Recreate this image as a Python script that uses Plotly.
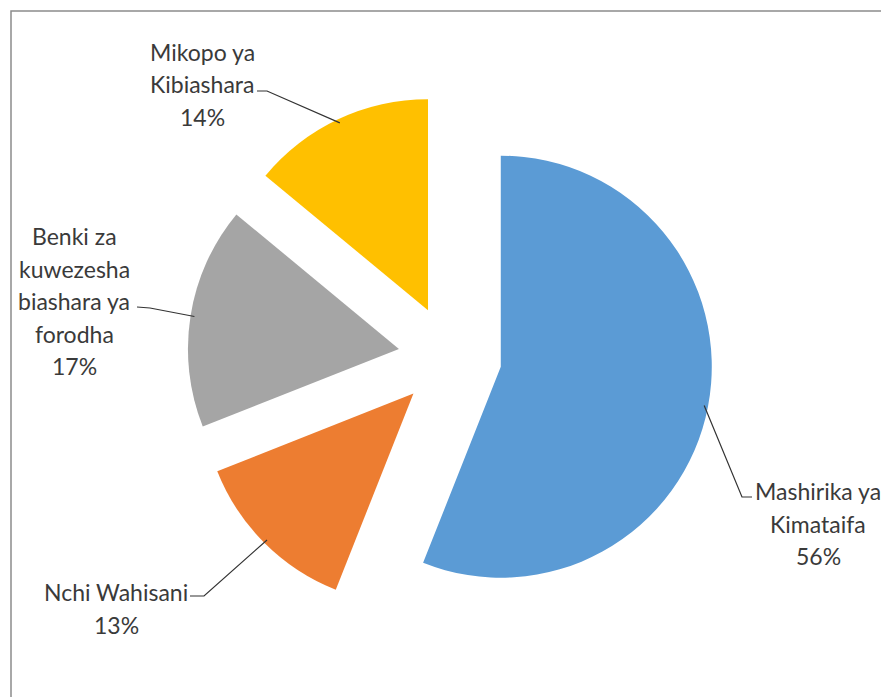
import math
import plotly.graph_objects as go

# ---- data ----
labels = ["Mashirika ya Kimataifa", "Nchi Wahisani",
          "Benki za kuwezesha biashara ya forodha", "Mikopo ya Kibiashara"]
values = [56, 13, 17, 14]
colors = ["#5B9BD5", "#ED7D31", "#A5A5A5", "#FFC000"]
label_lines = [["Mashirika ya", "Kimataifa"],
               ["Nchi Wahisani"],
               ["Benki za", "kuwezesha", "biashara ya", "forodha"],
               ["Mikopo ya", "Kibiashara"]]

# ---- layout constants (pixels) ----
W, H = 881, 697
PULL = 0.245
CX, CY = 450, 357
R = 211
BOX = 2 * R * (1 + PULL)

# label placement: (center x, first line center y) and leader knee/end points
label_pos = [(818, 491), (116, 592), (74, 236), (202, 52)]
leader_pts = [[(742, 497), (752, 497)],
              [(204, 596), (190, 596)],
              [(150, 308), (137, 307)],
              [(267, 91), (257, 91)]]
LINE_H = 32.5
FONT = "Lato, 'Open Sans', sans-serif"
TEXT_COLOR = "#3a3a3a"


def px(x):
    return x / W


def py(y):
    return 1 - y / H


fig = go.Figure(go.Pie(
    labels=labels, values=values, sort=False, direction="clockwise", rotation=0,
    pull=[PULL] * len(values),
    marker=dict(colors=colors, line=dict(width=0)),
    textinfo="none", hoverinfo="label+percent", showlegend=False,
    domain=dict(x=[px(CX - BOX / 2), px(CX + BOX / 2)],
                y=[py(CY + BOX / 2), py(CY - BOX / 2)]),
))

total = sum(values)
cum = 0
annotations = []
shapes = []
for i, v in enumerate(values):
    mid = (cum + v / 2) / total * 2 * math.pi
    cum += v
    ax = CX + R * (1 + PULL) * math.sin(mid) * 0.985
    ay = CY - R * (1 + PULL) * math.cos(mid) * 0.985
    pts = [(ax, ay)] + leader_pts[i]
    path = "M " + " L ".join(f"{px(x):.5f},{py(y):.5f}" for x, y in pts)
    shapes.append(dict(type="path", path=path, xref="paper", yref="paper",
                       line=dict(color="#333333", width=1.2)))
    pct = f"{round(v / total * 100)}%"
    lines = label_lines[i] + [pct]
    lx, ly = label_pos[i]
    for k, t in enumerate(lines):
        annotations.append(dict(
            text=t, x=px(lx), y=py(ly + k * LINE_H), xref="paper", yref="paper",
            xanchor="center", yanchor="middle", showarrow=False,
            font=dict(family=FONT, size=23, color=TEXT_COLOR)))

# chart-area border (clipped at right and bottom like the reference)
shapes.append(dict(type="rect", xref="paper", yref="paper",
                   x0=px(11), x1=px(W + 20), y0=py(H + 20), y1=py(11),
                   line=dict(color="#8c8c8c", width=1.5), fillcolor="rgba(0,0,0,0)",
                   layer="below"))

fig.update_layout(
    width=W, height=H, margin=dict(l=0, r=0, t=0, b=0),
    paper_bgcolor="white", plot_bgcolor="white",
    annotations=annotations, shapes=shapes,
)

fig.write_html(
    "out.html",
    config={"displayModeBar": False},
    post_script="document.body.style.margin='0';document.body.style.overflow='hidden';",
)
